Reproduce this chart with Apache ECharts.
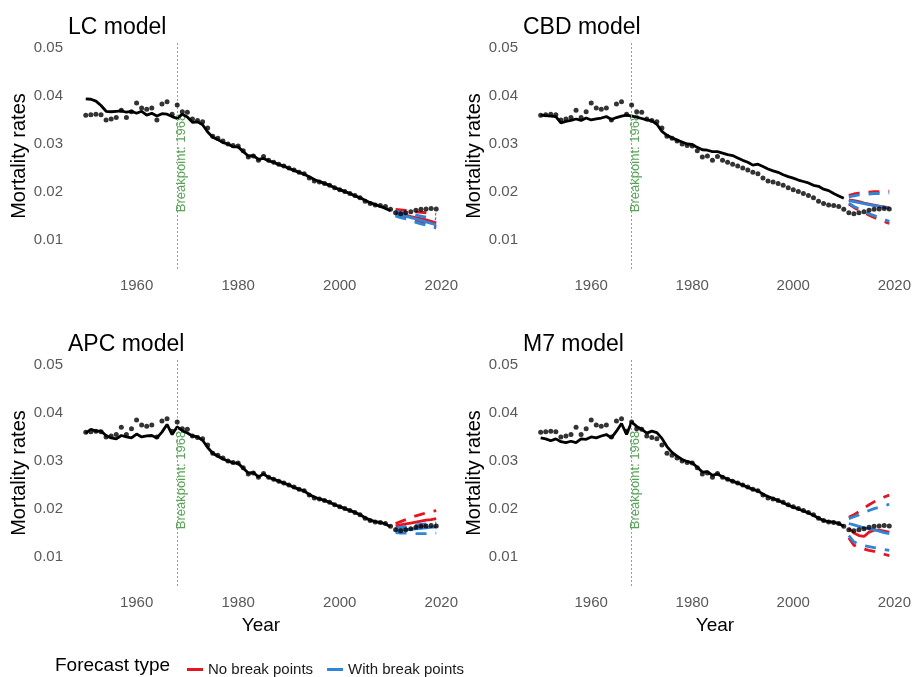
<!DOCTYPE html>
<html>
<head>
<meta charset="utf-8">
<script src="https://cdn.jsdelivr.net/npm/echarts@6/dist/echarts.min.js"></script>
<style>
  html, body { margin: 0; padding: 0; background: #ffffff; }
  #chart { width: 914px; height: 677px; }
</style>
</head>
<body>
<div id="chart"></div>
<script>
// ---- data -------------------------------------------------------------
const observedStart = 1950;
const fittedStart = 1950;
const forecastStart = 2011;
const breakYear = 1968;

const xTickYears = [1960, 1980, 2000, 2020];
const yTickValues = [0.01, 0.02, 0.03, 0.04, 0.05];

const modelTitles = ['LC model', 'CBD model', 'APC model', 'M7 model'];

// observed crude mortality rates, 1950-2019
const observed = [
  0.0360, 0.0361, 0.0362, 0.0361, 0.0350, 0.0352, 0.0355, 0.0370, 0.0355, 0.0367,
  0.0385, 0.0375, 0.0372, 0.0375, 0.0350, 0.0383, 0.0388, 0.0362, 0.0381, 0.0367,
  0.0366, 0.0352, 0.0349, 0.0346, 0.0333, 0.0316, 0.0312, 0.0306, 0.0300, 0.0297,
  0.0296, 0.0286, 0.0273, 0.0275, 0.0266, 0.0274, 0.0266, 0.0262, 0.0258, 0.0254,
  0.0250, 0.0246, 0.0241, 0.0238, 0.0229, 0.0223, 0.0221, 0.0218, 0.0214, 0.0209,
  0.0205, 0.0201, 0.0197, 0.0193, 0.0188, 0.0181, 0.0176, 0.0173, 0.0172, 0.0170,
  0.0164, 0.0157, 0.0155, 0.0157, 0.0159, 0.0162, 0.0164, 0.0165, 0.0166, 0.0165
];

// fitted rates, 1950-2010
const lcFitted = [
  0.0394, 0.0393, 0.0389, 0.0380, 0.0368, 0.0367, 0.0368, 0.0369, 0.0366, 0.0368,
  0.0364, 0.0368, 0.0360, 0.0364, 0.0358, 0.0363, 0.0362, 0.0357, 0.0353, 0.0362,
  0.0356, 0.0345, 0.0346, 0.0340, 0.0325, 0.0314, 0.0309, 0.0303, 0.0300, 0.0294,
  0.0294, 0.0284, 0.0275, 0.0276, 0.0268, 0.0270, 0.0265, 0.0262, 0.0257, 0.0254,
  0.0249, 0.0245, 0.0241, 0.0237, 0.0232, 0.0226, 0.0222, 0.0218, 0.0214, 0.0209,
  0.0205, 0.0201, 0.0197, 0.0192, 0.0188, 0.0183, 0.0178, 0.0174, 0.0170, 0.0166,
  0.0161
];
const cbdFitted = [
  0.0360, 0.0359, 0.0358, 0.0357, 0.0344, 0.0347, 0.0349, 0.0352, 0.0349, 0.0354,
  0.0350, 0.0352, 0.0354, 0.0357, 0.0351, 0.0355, 0.0358, 0.0360, 0.0358, 0.0356,
  0.0353, 0.0350, 0.0348, 0.0341, 0.0326, 0.0318, 0.0313, 0.0308, 0.0304, 0.0300,
  0.0299, 0.0293, 0.0288, 0.0287, 0.0284, 0.0284, 0.0281, 0.0278, 0.0276, 0.0271,
  0.0266, 0.0262, 0.0256, 0.0258, 0.0253, 0.0248, 0.0244, 0.0241, 0.0236, 0.0232,
  0.0229, 0.0225, 0.0222, 0.0219, 0.0214, 0.0212, 0.0206, 0.0203, 0.0197, 0.0192,
  0.0187
];
const apcFitted = [
  0.0358, 0.0366, 0.0362, 0.0362, 0.0353, 0.0348, 0.0346, 0.0353, 0.0350, 0.0348,
  0.0356, 0.0350, 0.0352, 0.0353, 0.0348, 0.0360, 0.0376, 0.0355, 0.0371, 0.0363,
  0.0358, 0.0352, 0.0350, 0.0343, 0.0328, 0.0316, 0.0310, 0.0304, 0.0300, 0.0296,
  0.0295, 0.0285, 0.0275, 0.0276, 0.0267, 0.0273, 0.0266, 0.0262, 0.0258, 0.0254,
  0.0250, 0.0245, 0.0241, 0.0238, 0.0230, 0.0225, 0.0221, 0.0218, 0.0214, 0.0209,
  0.0205, 0.0201, 0.0197, 0.0193, 0.0188, 0.0182, 0.0177, 0.0174, 0.0172, 0.0169,
  0.0163
];
const m7Fitted = [
  0.0348, 0.0346, 0.0342, 0.0346, 0.0340, 0.0338, 0.0341, 0.0338, 0.0346, 0.0345,
  0.0350, 0.0348, 0.0352, 0.0355, 0.0348, 0.0362, 0.0378, 0.0355, 0.0381, 0.0372,
  0.0366, 0.0358, 0.0362, 0.0359, 0.0347, 0.0330, 0.0318, 0.0310, 0.0303, 0.0299,
  0.0296, 0.0287, 0.0277, 0.0278, 0.0270, 0.0273, 0.0267, 0.0262, 0.0258, 0.0254,
  0.0250, 0.0245, 0.0241, 0.0238, 0.0231, 0.0226, 0.0222, 0.0218, 0.0213, 0.0208,
  0.0204, 0.0200, 0.0196, 0.0192, 0.0187, 0.0181, 0.0176, 0.0174, 0.0173, 0.0170,
  0.0164
];

// forecasts 2011-2019: mean with lower / upper bounds
const lcNoBreakMean  = [0.0156, 0.0154, 0.0152, 0.0149, 0.0147, 0.0145, 0.0142, 0.0139, 0.0136];
const lcNoBreakUpper = [0.0164, 0.0163, 0.0162, 0.0161, 0.0159, 0.0158, 0.0157, 0.0155, 0.0154];
const lcNoBreakLower = [0.0152, 0.0149, 0.0146, 0.0143, 0.0140, 0.0137, 0.0134, 0.0131, 0.0128];
const lcBreakMean    = [0.0155, 0.0152, 0.0150, 0.0147, 0.0144, 0.0141, 0.0138, 0.0135, 0.0132];
const lcBreakUpper   = [0.0160, 0.0158, 0.0156, 0.0154, 0.0152, 0.0150, 0.0148, 0.0146, 0.0144];
const lcBreakLower   = [0.0150, 0.0147, 0.0144, 0.0141, 0.0137, 0.0134, 0.0131, 0.0128, 0.0125];

const cbdNoBreakMean  = [0.0184, 0.0182, 0.0180, 0.0177, 0.0175, 0.0173, 0.0171, 0.0169, 0.0167];
const cbdNoBreakUpper = [0.0193, 0.0196, 0.0198, 0.0199, 0.0200, 0.0201, 0.0201, 0.0202, 0.0202];
const cbdNoBreakLower = [0.0175, 0.0168, 0.0162, 0.0157, 0.0152, 0.0147, 0.0143, 0.0139, 0.0135];
const cbdBreakMean    = [0.0182, 0.0180, 0.0178, 0.0176, 0.0174, 0.0172, 0.0170, 0.0168, 0.0166];
const cbdBreakUpper   = [0.0190, 0.0192, 0.0194, 0.0195, 0.0196, 0.0197, 0.0197, 0.0198, 0.0198];
const cbdBreakLower   = [0.0177, 0.0170, 0.0165, 0.0160, 0.0155, 0.0151, 0.0147, 0.0143, 0.0139];

const apcNoBreakMean  = [0.0165, 0.0167, 0.0169, 0.0171, 0.0173, 0.0175, 0.0177, 0.0178, 0.0180];
const apcNoBreakUpper = [0.0170, 0.0174, 0.0178, 0.0182, 0.0186, 0.0189, 0.0192, 0.0195, 0.0197];
const apcNoBreakLower = [0.0160, 0.0161, 0.0162, 0.0163, 0.0164, 0.0164, 0.0165, 0.0165, 0.0166];
const apcBreakMean    = [0.0155, 0.0156, 0.0157, 0.0158, 0.0159, 0.0160, 0.0161, 0.0162, 0.0163];
const apcBreakUpper   = [0.0160, 0.0162, 0.0164, 0.0165, 0.0167, 0.0168, 0.0169, 0.0170, 0.0171];
const apcBreakLower   = [0.0151, 0.0150, 0.0150, 0.0149, 0.0149, 0.0149, 0.0149, 0.0150, 0.0150];

const m7NoBreakMean  = [0.0160, 0.0150, 0.0145, 0.0143, 0.0152, 0.0156, 0.0156, 0.0154, 0.0152];
const m7NoBreakUpper = [0.0183, 0.0188, 0.0195, 0.0202, 0.0209, 0.0215, 0.0220, 0.0225, 0.0229];
const m7NoBreakLower = [0.0140, 0.0125, 0.0120, 0.0117, 0.0114, 0.0112, 0.0109, 0.0106, 0.0103];
const m7BreakMean    = [0.0170, 0.0167, 0.0164, 0.0161, 0.0159, 0.0157, 0.0154, 0.0151, 0.0149];
const m7BreakUpper   = [0.0180, 0.0184, 0.0188, 0.0193, 0.0197, 0.0201, 0.0204, 0.0207, 0.0210];
const m7BreakLower   = [0.0145, 0.0132, 0.0127, 0.0124, 0.0122, 0.0120, 0.0118, 0.0116, 0.0114];

const panels = [
  { title: modelTitles[0], fitted: lcFitted,
    noBreak: [lcNoBreakMean, lcNoBreakLower, lcNoBreakUpper],
    withBreak: [lcBreakMean, lcBreakLower, lcBreakUpper] },
  { title: modelTitles[1], fitted: cbdFitted,
    noBreak: [cbdNoBreakMean, cbdNoBreakLower, cbdNoBreakUpper],
    withBreak: [cbdBreakMean, cbdBreakLower, cbdBreakUpper] },
  { title: modelTitles[2], fitted: apcFitted,
    noBreak: [apcNoBreakMean, apcNoBreakLower, apcNoBreakUpper],
    withBreak: [apcBreakMean, apcBreakLower, apcBreakUpper] },
  { title: modelTitles[3], fitted: m7Fitted,
    noBreak: [m7NoBreakMean, m7NoBreakLower, m7NoBreakUpper],
    withBreak: [m7BreakMean, m7BreakLower, m7BreakUpper] }
];

// ---- layout & style ---------------------------------------------------
const FONT = '"Liberation Sans", Arial, Helvetica, sans-serif';
const RED = '#E3161F';
const BLUE = '#2F86D8';
const X_MIN = 1946.5, X_MAX = 2022.5;
const Y_MIN = 0.004, Y_MAX = 0.051;

const gridBoxes = [
  { left: 68,  top: 43,  width: 386, height: 226 },
  { left: 523, top: 43,  width: 386, height: 226 },
  { left: 68,  top: 360, width: 386, height: 226 },
  { left: 523, top: 360, width: 386, height: 226 }
];

const toPairs = (start, values) => values.map((v, i) => [start + i, v]);

const option = {
  animation: false,
  backgroundColor: '#ffffff',
  textStyle: { fontFamily: FONT },
  title: panels.map((p, i) => ({
    text: p.title,
    left: gridBoxes[i].left - 5,
    top: gridBoxes[i].top - 32,
    textStyle: { fontFamily: FONT, fontSize: 23, fontWeight: 'normal', color: '#000000' }
  })),
  grid: gridBoxes.map(g => Object.assign({ containLabel: false }, g)),
  xAxis: panels.map((p, i) => ({
    type: 'value',
    gridIndex: i,
    min: X_MIN,
    max: X_MAX,
    interval: 0.5,
    name: i >= 2 ? 'Year' : '',
    nameLocation: 'middle',
    nameGap: 30,
    nameTextStyle: { fontFamily: FONT, fontSize: 19, color: '#000000' },
    axisLine: { show: false },
    axisTick: { show: false },
    splitLine: { show: false },
    axisLabel: {
      margin: 9,
      fontFamily: FONT,
      fontSize: 15,
      color: '#595959',
      showMinLabel: false,
      showMaxLabel: false,
      formatter: v => (xTickYears.indexOf(Math.round(v)) >= 0 && Math.abs(v - Math.round(v)) < 1e-6) ? String(Math.round(v)) : ''
    }
  })),
  yAxis: panels.map((p, i) => ({
    type: 'value',
    gridIndex: i,
    min: Y_MIN,
    max: Y_MAX,
    interval: 0.001,
    name: 'Mortality rates',
    nameLocation: 'middle',
    nameGap: 35,
    nameTextStyle: { fontFamily: FONT, fontSize: 20, color: '#000000' },
    axisLine: { show: false },
    axisTick: { show: false },
    splitLine: { show: false },
    axisLabel: {
      margin: 5,
      fontFamily: FONT,
      fontSize: 15,
      color: '#595959',
      showMinLabel: false,
      showMaxLabel: false,
      formatter: v => {
        const t = yTickValues.find(t => Math.abs(t - v) < 1e-9);
        return t === undefined ? '' : t.toFixed(2);
      }
    }
  })),
  legend: {
    left: 182,
    top: 657,
    icon: 'rect',
    itemWidth: 16,
    itemHeight: 3,
    itemGap: 14,
    textStyle: { fontFamily: FONT, fontSize: 15, color: '#1a1a1a' },
    data: [
      { name: 'No break points', itemStyle: { color: RED } },
      { name: 'With break points', itemStyle: { color: BLUE } }
    ]
  },
  graphic: [{
    type: 'text',
    left: 55,
    top: 656,
    style: { text: 'Forecast type', fontFamily: FONT, fontSize: 19, fill: '#000000' }
  }],
  series: []
};

const dashed = [11, 9];

panels.forEach((p, i) => {
  const axes = { xAxisIndex: i, yAxisIndex: i };

  // breakpoint caption, drawn beneath the curves
  option.series.push(Object.assign({
    type: 'scatter',
    name: 'Breakpoint',
    data: [[breakYear, (Y_MIN + Y_MAX) / 2]],
    symbolSize: 0,
    silent: true,
    z: 1,
    label: {
      show: true,
      position: 'inside',
      rotate: 90,
      offset: [-7, 4],
      formatter: 'Breakpoint: ' + breakYear,
      fontFamily: FONT,
      fontSize: 13,
      color: '#2E8B2E'
    }
  }, axes));

  // fitted curve with the breakpoint marker
  option.series.push(Object.assign({
    type: 'line',
    name: 'Fitted',
    data: toPairs(fittedStart, p.fitted),
    showSymbol: false,
    symbol: 'none',
    lineStyle: { color: '#000000', width: 2.8 },
    z: 3,
    markLine: {
      silent: true,
      symbol: ['none', 'none'],
      label: { show: false },
      lineStyle: { color: '#9c9c9c', type: [2, 2], width: 1 },
      data: [{ xAxis: breakYear }]
    }
  }, axes));

  // forecasts: no break points (red) then with break points (blue)
  [[p.noBreak, RED, 'No break points'], [p.withBreak, BLUE, 'With break points']].forEach(([set, color, name]) => {
    const [mean, lower, upper] = set;
    [lower, upper].forEach(band => {
      option.series.push(Object.assign({
        type: 'line',
        name: name + ' bound',
        data: toPairs(forecastStart, band),
        symbol: 'none',
        lineStyle: { color, width: 2.8, type: dashed },
        itemStyle: { color },
        z: 4
      }, axes));
    });
    option.series.push(Object.assign({
      type: 'line',
      name,
      data: toPairs(forecastStart, mean),
      symbol: 'none',
      lineStyle: { color, width: 2.8 },
      itemStyle: { color },
      z: 4
    }, axes));
  });

  // observed rates
  option.series.push(Object.assign({
    type: 'scatter',
    name: 'Observed',
    data: toPairs(observedStart, observed),
    symbolSize: 5,
    itemStyle: { color: '#000000' },
    z: 5
  }, axes));
});

const chart = echarts.init(document.getElementById('chart'), null, { renderer: 'canvas' });
chart.setOption(option);
</script>
</body>
</html>
